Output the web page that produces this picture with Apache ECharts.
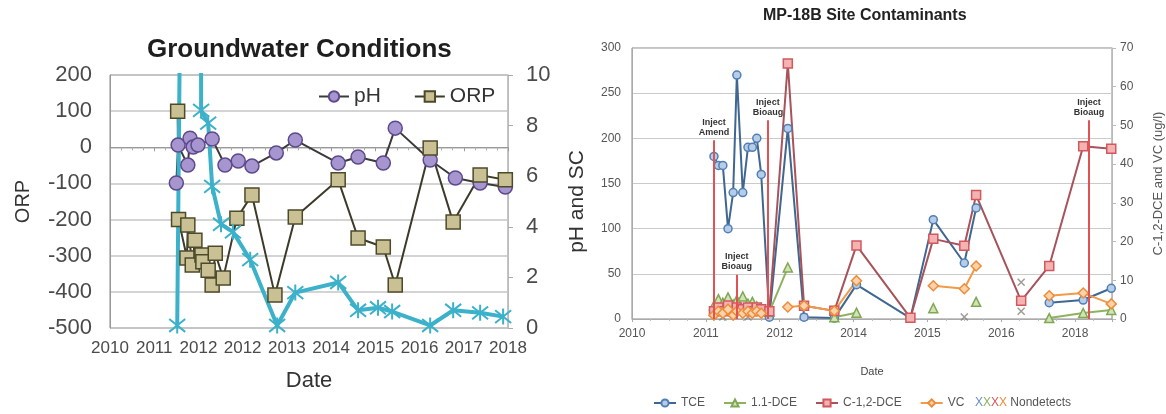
<!DOCTYPE html>
<html>
<head>
<meta charset="utf-8">
<title>Groundwater Conditions / MP-18B Site Contaminants</title>
<script src="https://cdn.jsdelivr.net/npm/echarts@6/dist/echarts.min.js"></script>
<style>
  html, body { margin: 0; padding: 0; background: #fff; }
  #wrap { position: relative; width: 1166px; height: 414px; }
  #gw { position: absolute; left: 0; top: 0; width: 590px; height: 414px; }
  #mp { position: absolute; left: 590px; top: 0; width: 576px; height: 414px; }
</style>
</head>
<body>
<div id="wrap"><div id="gw"></div><div id="mp"></div></div>
<script>
// ---------- Groundwater Conditions (left) ----------
// dates are in axis tick units: 0 = first tick label, 9 = last one
var gwTickLabels = ['2010', '2011', '2012', '2012', '2013', '2014', '2015', '2016', '2017', '2018'];

var phDates  = [1.50, 1.54, 1.76, 1.81, 1.88, 1.99, 2.31, 2.60, 2.90, 3.21, 3.76, 4.19, 5.16, 5.61, 6.18, 6.45, 7.24, 7.81, 8.37, 8.94];
var phValues = [5.73, 7.23, 6.44, 7.50, 7.15, 7.23, 7.47, 6.44, 6.60, 6.40, 6.92, 7.43, 6.52, 6.76, 6.52, 7.90, 6.64, 5.93, 5.73, 5.57];

var orpDates  = [1.53, 1.55, 1.74, 1.76, 1.86, 1.92, 2.08, 2.10, 2.22, 2.31, 2.38, 2.56, 2.87, 3.21, 3.73, 4.19, 5.16, 5.61, 6.18, 6.45, 7.24, 7.76, 8.37, 8.94];
var orpValues = [100, -200, -306, -215, -326, -257, -298, -317, -340, -381, -293, -362, -196, -132, -409, -193, -90, -251, -276, -381, -2, -207, -77, -90];

var scDates  = [1.52, 2.04, 2.06, 2.22, 2.31, 2.51, 2.78, 3.17, 3.78, 4.19, 5.16, 5.61, 6.06, 6.38, 7.24, 7.76, 8.37, 8.89];
var scValues = [0.1, 100, 8.6, 8.1, 5.6, 4.1, 3.8, 2.7, 0.1, 1.4, 1.8, 0.7, 0.8, 0.65, 0.1, 0.7, 0.6, 0.45];

// ---------- MP-18B Site Contaminants (right) ----------
var mpTickLabels = ['2010', '2011', '2012', '2014', '2015', '2016', '2018'];
var mpDates = [1.11, 1.17, 1.23, 1.30, 1.37, 1.42, 1.50, 1.57, 1.63, 1.69, 1.75, 1.86, 2.11, 2.33, 2.74, 3.04, 3.77, 4.08, 4.50, 4.66, 5.27, 5.65, 6.11, 6.49];
var tce    = [180, 170, 170, 100, 140, 270, 140, 190, 190, 200, 160, 2, 211, 2, 1, 38, 1, 110, 62, 123, null, 18, 21, 34];
var dce11  = [15, 22, 18, 24, 16, 21, 25, 17, 19, 14, 12, 8, 57, null, 2, 7, null, 12, null, 19, null, 1, 6.6, 10];
var cdce12 = [2, 3, 2, 3.5, 2, 3, 2.5, 3, 2, 3, 2.5, 2, 66, 3.4, 2.1, 19, 0.3, 20.7, 18.9, 32, 4.7, 13.7, 44.6, 44];
var vc     = [1, 2, 1.5, 2.5, 1, 2, 1.5, 2, 1.5, 2, 1.5, null, 3.1, 3.4, 2.1, 9.9, null, 8.6, 7.8, 13.7, null, 6, 6.7, 3.9];
var ndDates  = [1.23, 1.57, 2.33, 4.50, 5.27, 5.27];
var ndValues = [0.5, 0.5, 0.5, 0.5, 2, 9.5];

var injectDates = [1.11, 1.42, 1.84, 6.19];
var injectTops  = [198, 49, 220, 220];
var injectNames = ['Inject\nAmend', 'Inject\nBioaug', 'Inject\nBioaug', 'Inject\nBioaug'];

function pairs(xs, ys) {
  return xs.map(function (x, i) { return [x, ys[i] == null ? '-' : ys[i]]; });
}

var font = 'Arial, "Liberation Sans", sans-serif';
var asterisk = 'path://M10,0L10,20M2,2L18,18M18,2L2,18';
var cross = 'path://M0,0L10,10M10,0L0,10';

var gw = echarts.init(document.getElementById('gw'));
gw.setOption({
  animation: false,
  textStyle: { fontFamily: font },
  title: {
    text: 'Groundwater Conditions', left: 147, top: 37, padding: 0,
    textStyle: { fontSize: 26, fontWeight: 'bold', color: '#1e1e1e', fontFamily: font }
  },
  legend: {
    data: ['pH', 'ORP'], left: 313, top: 84, padding: [2, 6, 2, 5],
    backgroundColor: '#fff', itemWidth: 30, itemHeight: 13, itemGap: 33,
    textStyle: { fontSize: 21, color: '#333', fontFamily: font }
  },
  grid: {
    left: 110, top: 75, width: 398, height: 253, outerBoundsMode: 'none',
    show: true, borderColor: '#888', borderWidth: 1
  },
  xAxis: {
    type: 'value', min: 0, max: 9, interval: 1,
    axisLine: { lineStyle: { color: '#999' } },
    axisTick: { show: true, length: 4, lineStyle: { color: '#999' } },
    minorTick: { show: true, splitNumber: 4, length: 3, lineStyle: { color: '#aaa' } },
    splitLine: { show: false },
    axisLabel: { fontSize: 17, color: '#4a4a4a', margin: 12, formatter: function (v) { return gwTickLabels[v] || ''; } },
    name: 'Date', nameLocation: 'middle', nameGap: 42,
    nameTextStyle: { fontSize: 22, color: '#333' }
  },
  yAxis: [{
    type: 'value', position: 'left', min: -500, max: 200, interval: 100,
    axisLine: { show: true, lineStyle: { color: '#999' } },
    axisTick: { show: false },
    splitLine: { lineStyle: { color: '#c6c6c6', width: 1.5 } },
    axisLabel: { fontSize: 22, color: '#4a4a4a', margin: 18 },
    name: 'ORP', nameLocation: 'middle', nameRotate: 90, nameGap: 77,
    nameTextStyle: { fontSize: 20, color: '#333' }
  }, {
    type: 'value', position: 'right', min: 0, max: 10, interval: 2,
    axisLine: { show: true, lineStyle: { color: '#bbb' } },
    axisTick: { show: true, length: 5, lineStyle: { color: '#aaa' } },
    splitLine: { show: false },
    axisLabel: { fontSize: 22, color: '#4a4a4a', margin: 18 },
    name: 'pH and SC', nameLocation: 'middle', nameRotate: 90, nameGap: 59,
    nameTextStyle: { fontSize: 21, color: '#333' }
  }],
  series: [{
    name: 'pH', type: 'line', yAxisIndex: 1, data: pairs(phDates, phValues),
    symbol: 'circle', symbolSize: 14,
    lineStyle: { color: '#3a3a3a', width: 2 },
    itemStyle: { color: '#a795d0', borderColor: '#5c4a8c', borderWidth: 1.5 }
  }, {
    name: 'ORP', type: 'line', yAxisIndex: 0, data: pairs(orpDates, orpValues),
    symbol: 'rect', symbolSize: 14,
    lineStyle: { color: '#3d3a28', width: 2 },
    itemStyle: { color: '#c9c194', borderColor: '#4d4a2a', borderWidth: 1.5 }
  }, {
    name: 'SC', type: 'line', yAxisIndex: 1, data: pairs(scDates, scValues),
    symbol: asterisk, symbolSize: 16, clip: true,
    lineStyle: { color: '#3cb1ca', width: 4 },
    itemStyle: { color: '#3cb1ca', borderColor: '#3cb1ca', borderWidth: 2 }
  }]
});

var mp = echarts.init(document.getElementById('mp'));
mp.setOption({
  animation: false,
  textStyle: { fontFamily: font },
  title: {
    text: 'MP-18B Site Contaminants', left: 173, top: 8, padding: 0,
    textStyle: { fontSize: 16, fontWeight: 'bold', color: '#222', fontFamily: font }
  },
  legend: {
    data: ['TCE', '1.1-DCE', 'C-1,2-DCE', 'VC'], left: 63, top: 397, padding: 0,
    itemWidth: 22, itemHeight: 9, itemGap: 18,
    textStyle: { fontSize: 12, color: '#555', fontFamily: font }
  },
  graphic: [{
    type: 'text', left: 385, top: 397,
    style: {
      text: '{b|X}{g|X}{r|X}{o|X} Nondetects', fontSize: 12, fill: '#555', fontFamily: font,
      rich: {
        b: { fill: '#6a8fbf', fontSize: 12 }, g: { fill: '#8db361', fontSize: 12 },
        r: { fill: '#d2585d', fontSize: 12 }, o: { fill: '#ee8c3a', fontSize: 12 }
      }
    }
  }],
  grid: {
    left: 42, top: 48, width: 480, height: 271, outerBoundsMode: 'none',
    show: true, borderColor: '#888', borderWidth: 1
  },
  xAxis: {
    type: 'value', min: 0, max: 6.5, interval: 1,
    axisLine: { lineStyle: { color: '#aaa' } },
    axisTick: { show: true, length: 3, lineStyle: { color: '#aaa' } },
    minorTick: { show: true, splitNumber: 4, length: 2, lineStyle: { color: '#bbb' } },
    splitLine: { show: false },
    axisLabel: { fontSize: 12, color: '#555', margin: 9, formatter: function (v) { return mpTickLabels[v] || ''; } },
    name: 'Date', nameLocation: 'middle', nameGap: 47,
    nameTextStyle: { fontSize: 11, color: '#444' }
  },
  yAxis: [{
    type: 'value', position: 'left', min: 0, max: 300, interval: 50,
    axisLine: { show: true, lineStyle: { color: '#aaa' } },
    axisTick: { show: false },
    splitLine: { lineStyle: { color: '#cacaca' } },
    axisLabel: { fontSize: 12, color: '#555', margin: 11 }
  }, {
    type: 'value', position: 'right', min: 0, max: 70, interval: 10,
    axisLine: { show: true, lineStyle: { color: '#bbb' } },
    axisTick: { show: true, length: 4, lineStyle: { color: '#bbb' } },
    splitLine: { show: false },
    axisLabel: { fontSize: 12, color: '#555', margin: 8 },
    name: 'C-1,2-DCE and VC (ug/l)', nameLocation: 'middle', nameRotate: 90, nameGap: 40,
    nameTextStyle: { fontSize: 13, color: '#555' }
  }],
  series: [{
    name: 'Injections', type: 'line', yAxisIndex: 0, data: [],
    markLine: {
      silent: true, symbol: ['none', 'none'],
      lineStyle: { color: '#e25252', width: 2, type: 'solid' },
      label: {
        position: 'end', distance: 3, fontSize: 9, fontWeight: 'bold', color: '#333', lineHeight: 10,
        formatter: function (p) { return p.name; }
      },
      data: injectDates.map(function (d, i) {
        return [{ name: injectNames[i], coord: [d, 0] }, { coord: [d, injectTops[i]] }];
      })
    }
  }, {
    name: 'TCE', type: 'line', yAxisIndex: 0, data: pairs(mpDates, tce),
    symbol: 'circle', symbolSize: 8,
    lineStyle: { color: '#3f6791', width: 2 },
    itemStyle: { color: '#b7cde6', borderColor: '#4f7fb8', borderWidth: 1.5 }
  }, {
    name: '1.1-DCE', type: 'line', yAxisIndex: 0, data: pairs(mpDates, dce11),
    symbol: 'triangle', symbolSize: 9,
    lineStyle: { color: '#8db361', width: 2 },
    itemStyle: { color: '#d3e3b5', borderColor: '#7fa855', borderWidth: 1.5 }
  }, {
    name: 'C-1,2-DCE', type: 'line', yAxisIndex: 1, data: pairs(mpDates, cdce12),
    symbol: 'rect', symbolSize: 9,
    lineStyle: { color: '#a8525a', width: 2 },
    itemStyle: { color: '#f3b3b3', borderColor: '#d2585d', borderWidth: 1.5 }
  }, {
    name: 'VC', type: 'line', yAxisIndex: 1, data: pairs(mpDates, vc),
    symbol: 'diamond', symbolSize: 10,
    lineStyle: { color: '#f19a4a', width: 2 },
    itemStyle: { color: '#fbd3aa', borderColor: '#ee8c3a', borderWidth: 1.5 }
  }, {
    name: 'Nondetects', type: 'scatter', yAxisIndex: 1, data: pairs(ndDates, ndValues),
    symbol: cross, symbolSize: 7,
    itemStyle: { color: '#8a7f7a', borderColor: '#8a7f7a', borderWidth: 1.5 }
  }]
});

window.addEventListener('resize', function () {
  gw.resize();
  mp.resize();
});
</script>
</body>
</html>
